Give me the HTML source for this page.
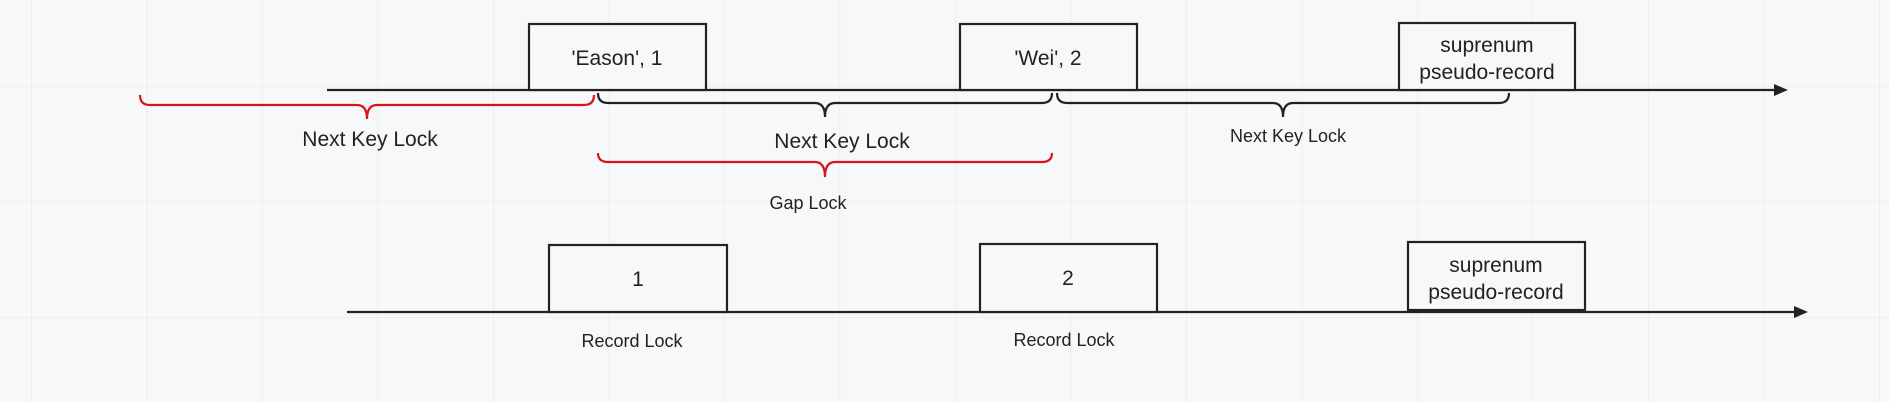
<!DOCTYPE html>
<html><head><meta charset="utf-8"><style>
html,body{margin:0;padding:0;background:#f7f8fa;}
svg{display:block;font-family:"Liberation Sans",sans-serif;}
</style></head><body>
<svg width="1889" height="402" viewBox="0 0 1889 402">
<defs>
<pattern id="grid" width="115.5" height="115.5" patternUnits="userSpaceOnUse" x="31" y="86">
<path d="M0 0 H115.5 M0 0 V115.5" stroke="#e9ebee" stroke-width="1.5" fill="none"/>
</pattern>
</defs>
<rect width="1889" height="402" fill="#f7f8fa"/>
<rect width="1889" height="402" fill="url(#grid)"/>

<g stroke="#222" stroke-width="2.2" fill="none">
<line x1="327" y1="90" x2="1780" y2="90"/>
<line x1="347" y1="312" x2="1800" y2="312"/>
</g>
<path d="M1774 84 L1788 90 L1774 96 Z" fill="#222"/>
<path d="M1794 306 L1808 312 L1794 318 Z" fill="#222"/>

<g stroke="#222" stroke-width="2.2" fill="#f7f8fa" font-size="21" text-anchor="middle">
<rect x="529" y="24" width="177" height="66"/>
<rect x="960" y="24" width="177" height="66"/>
<rect x="1399" y="23" width="176" height="67"/>
<rect x="549" y="245" width="178" height="67"/>
<rect x="980" y="244" width="177" height="68"/>
<rect x="1408" y="242" width="177" height="68"/>
</g>
<g fill="#222" font-size="21" text-anchor="middle">
<text x="617" y="65">'Eason', 1</text>
<text x="1048" y="65">'Wei', 2</text>
<text x="1487" y="52">suprenum</text>
<text x="1487" y="79">pseudo-record</text>
<text x="638" y="286">1</text>
<text x="1068" y="285">2</text>
<text x="1496" y="272">suprenum</text>
<text x="1496" y="299">pseudo-record</text>
</g>

<g fill="none" stroke-width="2.2">
<path d="M140 95 Q140 105 150 105 H357 Q367 105 367 119 Q367 105 377 105 H584 Q594 105 594 95" stroke="#d9141b"/>
<path d="M598 93 Q598 103 608 103 H815 Q825 103 825 117 Q825 103 835 103 H1042 Q1052 103 1052 93" stroke="#222"/>
<path d="M598 153 Q598 162 608 162 H815 Q825 162 825 177 Q825 162 835 162 H1042 Q1052 162 1052 153" stroke="#d9141b"/>
<path d="M1057 93 Q1057 103 1067 103 H1273 Q1283 103 1283 117 Q1283 103 1293 103 H1499 Q1509 103 1509 93" stroke="#222"/>
</g>
<g fill="#222" text-anchor="middle">
<text x="370" y="146" font-size="21">Next Key Lock</text>
<text x="842" y="148" font-size="21">Next Key Lock</text>
<text x="808" y="209" font-size="18">Gap Lock</text>
<text x="1288" y="142" font-size="18">Next Key Lock</text>
<text x="632" y="347" font-size="18">Record Lock</text>
<text x="1064" y="346" font-size="18">Record Lock</text>
</g>
</svg>
</body></html>
